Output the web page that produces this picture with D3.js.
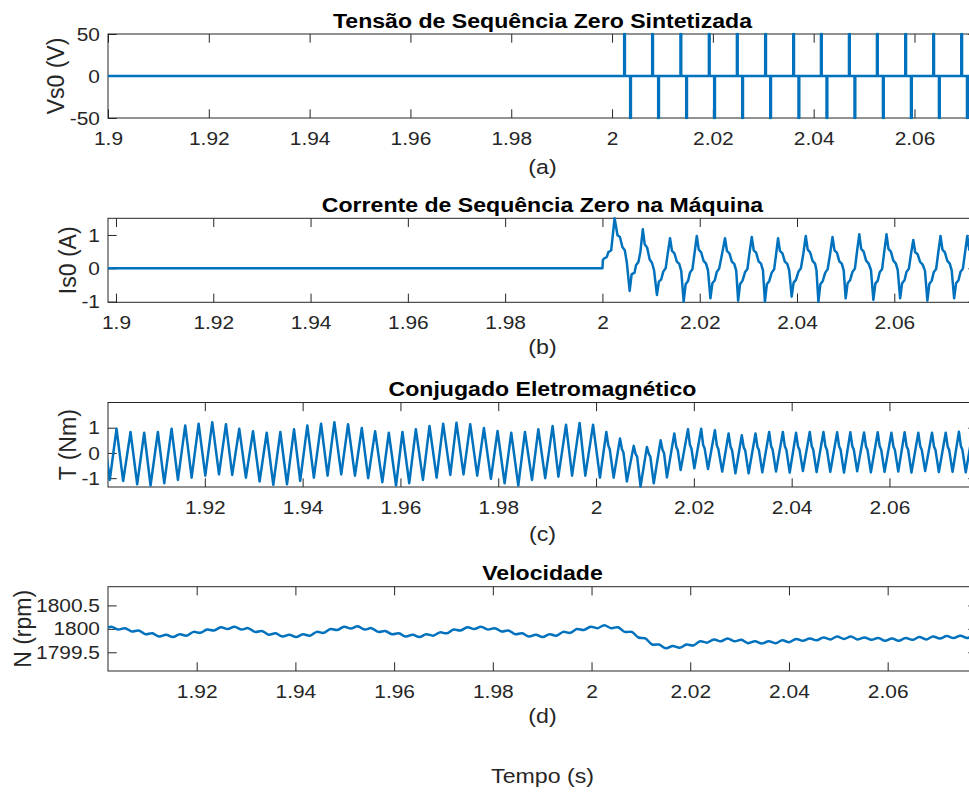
<!DOCTYPE html>
<html>
<head>
<meta charset="utf-8">
<script src="https://cdn.jsdelivr.net/npm/d3@7"></script>
<style>
  body { margin: 0; background: #fff; }
  svg { display: block; }
  text { font-family: "Liberation Sans", Arial, Helvetica, sans-serif; }
</style>
</head>
<body>
<svg id="fig" width="969" height="792"></svg>
<script>
// Time offsets below are in milliseconds after T0 (seconds).
const T0 = 1.9;

// (a) Synthesized zero-sequence voltage: narrow +/- pulses after 2.0 s
const vsPosPulseMs = [102.40, 107.96, 113.57, 119.21, 124.77, 130.38, 135.94, 141.44, 147.00, 152.55, 158.17, 163.72, 169.28];
const vsNegPulseMs = [103.59, 109.15, 114.71, 120.26, 125.82, 131.38, 136.99, 142.55, 148.10, 153.74, 159.30, 164.85, 170.41];
const vsPulseV = 50;
const vsPulseWidthMs = 0.15;

// (b) Zero-sequence current in the machine
const isMs = [-1.7, 100.0, 100.1, 100.3, 100.9, 101.2, 101.8, 102.5, 103.1, 103.6, 104.1, 104.6, 105.0, 105.6, 106.0, 106.6, 106.9, 107.4, 107.8, 108.3,
  108.7, 109.2, 109.7, 110.2, 110.6, 111.2, 111.6, 112.1, 112.5, 113.0, 113.4, 113.9,
  114.3, 114.8, 115.3, 115.8, 116.2, 116.7, 117.1, 117.6, 118.0, 118.5, 118.9, 119.4,
  119.8, 120.3, 120.8, 121.3, 121.7, 122.2, 122.6, 123.1, 123.5, 124.0, 124.6, 125.2,
  125.6, 126.1, 126.6, 127.1, 127.5, 127.9, 128.3, 128.8, 129.3, 129.8, 130.2, 130.7,
  131.1, 131.6, 132.1, 132.6, 133.0, 133.4, 133.8, 134.3, 134.8, 135.3, 135.7, 136.1,
  136.5, 137.0, 137.5, 138.0, 138.4, 138.9, 139.3, 139.8, 140.3, 140.8, 141.3, 141.8,
  142.2, 142.7, 143.2, 143.7, 144.0, 144.4, 144.8, 145.3, 145.8, 146.3, 146.8, 147.3,
  147.7, 148.2, 148.7, 149.2, 149.6, 150.0, 150.4, 150.9, 151.4, 151.9, 152.3, 152.8,
  153.2, 153.7, 154.2, 154.7, 155.2, 155.7, 156.1, 156.6, 157.0, 157.5, 157.9, 158.4,
  158.8, 159.3, 159.8, 160.3, 160.7, 161.2, 161.6, 162.1, 162.5, 163.0, 163.4, 163.9,
  164.3, 164.8, 165.3, 165.8, 166.3, 166.8, 167.2, 167.7, 168.1, 168.6, 169.0, 169.5,
  169.9, 170.4, 170.9, 171.4, 171.8, 172.3, 172.7, 173.2, 173.6, 174.1, 174.5, 175.0,
  175.4, 175.9, 176.4, 176.9, 177.3, 177.8];
const isA = [0, 0, 0.25, 0.29, 0.34, 0.48, 0.54, 1.5, 0.99, 0.94, 0.64, 0.54, 0.19, -0.68, -0.18, -0.13, 0.09, 0.19, 0.49, 1.17,
  0.72, 0.62, 0.27, 0.16, -0.05, -0.80, -0.40, -0.33, -0.10, 0.0, 0.42, 0.90,
  0.52, 0.45, 0.20, 0.13, -0.08, -1.0, -0.48, -0.38, -0.13, -0.03, 0.42, 0.97,
  0.56, 0.48, 0.22, 0.14, -0.06, -0.90, -0.45, -0.36, -0.11, -0.01, 0.44, 0.90,
  0.52, 0.45, 0.20, 0.13, -0.07, -0.97, -0.47, -0.37, -0.12, -0.02, 0.43, 0.94,
  0.54, 0.47, 0.21, 0.14, -0.06, -1.0, -0.48, -0.38, -0.13, -0.03, 0.42, 0.90,
  0.52, 0.45, 0.20, 0.13, -0.07, -0.85, -0.43, -0.34, -0.10, 0.0, 0.44, 0.97,
  0.56, 0.48, 0.22, 0.14, -0.06, -1.0, -0.48, -0.38, -0.13, -0.03, 0.43, 0.94,
  0.54, 0.47, 0.21, 0.14, -0.06, -0.90, -0.45, -0.36, -0.11, -0.01, 0.46, 1.02,
  0.58, 0.50, 0.23, 0.15, -0.05, -0.95, -0.46, -0.37, -0.12, -0.02, 0.46, 1.02,
  0.58, 0.50, 0.23, 0.15, -0.05, -0.90, -0.45, -0.36, -0.11, -0.01, 0.40, 0.85,
  0.48, 0.42, 0.19, 0.12, -0.07, -0.97, -0.47, -0.37, -0.12, -0.02, 0.43, 0.97,
  0.56, 0.48, 0.22, 0.14, -0.06, -0.90, -0.45, -0.36, -0.11, -0.01, 0.43, 0.97,
  0.56, 0.48, 0.22, 0.14, -0.06, -0.90];

// (c) Electromagnetic torque
const teMs = [0.0, 0.57, 1.94, 3.3, 4.81, 6.17, 7.60, 8.9, 10.40, 11.7, 13.20, 14.5, 15.99, 17.3, 18.73, 20.1, 21.52, 22.9, 24.32, 25.6, 27.04,
  28.4, 29.85, 31.2, 32.65, 34.0, 35.44, 36.8, 38.24, 39.5, 40.96, 42.3, 43.77, 45.1, 46.49, 47.9, 49.29, 50.7, 52.10, 53.4, 54.82,
  56.3, 57.62, 59.1, 60.41, 61.8, 63.15, 64.6, 65.94, 67.4, 68.74, 70.2, 71.46, 72.9, 74.27, 75.7, 77.07, 78.5, 79.86, 81.3, 82.66,
  84.1, 85.46, 86.9, 88.2, 89.6, 91.12, 92.3, 93.86, 95.1, 96.64, 97.8, 99.39, 100.8,
  102.1, 102.5, 102.8, 103.6, 104.9, 105.3, 105.6, 106.3, 107.7, 108.1, 108.4, 109.1, 110.4, 110.8, 111.1, 111.8,
  113.2, 113.6, 113.9, 114.5, 116.0, 116.4, 116.7, 117.3, 118.8, 119.2, 119.5, 120.1, 121.5, 121.9, 122.2, 122.9,
  124.3, 124.7, 125.0, 125.8, 127.1, 127.5, 127.8, 128.5, 129.8, 130.2, 130.5, 131.2, 132.6, 133.0, 133.3, 134.0,
  135.4, 135.8, 136.1, 136.8, 138.2, 138.6, 138.9, 139.6, 140.9, 141.3, 141.6, 142.3, 143.7, 144.1, 144.4, 145.1,
  146.5, 146.9, 147.2, 147.9, 149.3, 149.7, 150.0, 150.7, 152.0, 152.4, 152.7, 153.4, 154.8, 155.2, 155.5, 156.2,
  157.6, 158.0, 158.3, 159.0, 160.4, 160.8, 161.1, 161.8, 163.1, 163.5, 163.8, 164.5, 165.9, 166.3, 166.6, 167.3,
  168.7, 169.1, 169.4, 170.1, 171.5, 171.9, 172.2, 172.9, 174.2, 174.6, 174.9, 175.6, 177.0, 177.4, 177.7, 178.4];
const teNm = [-0.22, -1.07, 0.96, -1.11, 0.83, -1.24, 0.80, -1.29, 0.83, -1.20, 0.96, -1.07, 1.09, -0.98, 1.16, -0.90, 1.22, -0.85, 1.14, -0.87, 0.96,
  -0.98, 0.86, -1.13, 0.80, -1.26, 0.83, -1.24, 0.94, -1.11, 1.09, -0.98, 1.16, -0.90, 1.22, -0.85, 1.14, -0.90, 0.99, -1.00, 0.86,
  -1.16, 0.80, -1.29, 0.83, -1.20, 0.94, -1.07, 1.07, -0.98, 1.16, -0.87, 1.20, -0.85, 1.14, -0.90, 0.99, -1.03, 0.87, -1.20, 0.80,
  -1.29, 0.83, -1.07, 0.94, -1.00, 1.07, -0.94, 1.12, -0.90, 1.19, -0.90, 1.12, -0.98,
  0.83, 0.30, 0.15, -0.98, 0.57, 0.15, 0.02, -1.13, 0.28, -0.05, -0.15, -1.33, 0.24, -0.05, -0.15, -1.20,
  0.50, 0.12, 0.00, -0.97, 0.77, 0.25, 0.12, -0.68, 0.94, 0.32, 0.18, -0.61, 0.96, 0.32, 0.18, -0.64,
  0.90, 0.30, 0.16, -0.74, 0.77, 0.25, 0.12, -0.81, 0.70, 0.22, 0.10, -0.81, 0.77, 0.25, 0.12, -0.77,
  0.83, 0.27, 0.14, -0.74, 0.83, 0.27, 0.14, -0.78, 0.80, 0.26, 0.13, -0.72, 0.83, 0.27, 0.14, -0.76,
  0.83, 0.27, 0.14, -0.75, 0.82, 0.27, 0.14, -0.78, 0.82, 0.27, 0.14, -0.73, 0.81, 0.26, 0.13, -0.77,
  0.82, 0.27, 0.14, -0.75, 0.80, 0.26, 0.13, -0.74, 0.82, 0.27, 0.14, -0.78, 0.80, 0.26, 0.13, -0.72,
  0.80, 0.26, 0.13, -0.76, 0.80, 0.26, 0.13, -0.75, 0.84, 0.27, 0.14, -0.77, 0.82, 0.27, 0.14, -0.75];

// (d) Rotor speed
const nMs = [1.30, 2.69, 4.08, 5.46, 6.85, 8.24, 9.63, 11.01, 12.40, 13.79, 15.18, 16.56, 17.95, 19.34, 20.73, 22.11, 23.50, 24.89, 26.28, 27.66,
  29.05, 30.44, 31.83, 33.21, 34.60, 35.99, 37.38, 38.76, 40.15, 41.54, 42.93, 44.31, 45.70, 47.09, 48.48, 49.86, 51.25, 52.64, 54.03, 55.41,
  56.80, 58.19, 59.58, 60.96, 62.35, 63.74, 65.13, 66.51, 67.90, 69.29, 70.68, 72.06, 73.45, 74.84, 76.23, 77.61, 79.00, 80.39, 81.78, 83.16,
  84.55, 85.94, 87.33, 88.71, 90.10, 91.49, 92.88, 94.26, 95.65, 97.04, 98.43, 99.81, 101.20, 102.59, 103.98, 105.36, 106.75, 108.14, 109.53, 110.91,
  112.30, 113.69, 115.08, 116.46, 117.85, 119.24, 120.63, 122.01, 123.40, 124.79, 126.18, 127.56, 128.95, 130.34, 131.73, 133.11, 134.50, 135.89, 137.28, 138.66,
  140.05, 141.44, 142.83, 144.21, 145.60, 146.99, 148.38, 149.76, 151.15, 152.54, 153.93, 155.31, 156.70, 158.09, 159.48, 160.86, 162.25, 163.64, 165.03, 166.41,
  167.80, 169.19, 170.58, 171.96, 173.35, 174.74, 176.13, 177.51, 178.90];
const nRpm = [1799.995, 1800.045, 1799.985, 1800.015, 1799.945, 1799.965, 1799.885, 1799.905, 1799.835, 1799.875,
  1799.825, 1799.885, 1799.855, 1799.935, 1799.915, 1799.985, 1799.965, 1800.035, 1799.995, 1800.045,
  1799.985, 1800.015, 1799.935, 1799.955, 1799.875, 1799.905, 1799.835, 1799.875, 1799.825, 1799.885,
  1799.855, 1799.935, 1799.915, 1799.995, 1799.975, 1800.045, 1800.005, 1800.055, 1799.985, 1800.015,
  1799.935, 1799.955, 1799.885, 1799.905, 1799.835, 1799.875, 1799.825, 1799.885, 1799.855, 1799.925,
  1799.905, 1799.985, 1799.965, 1800.035, 1799.995, 1800.045, 1799.985, 1800.015, 1799.945, 1799.965,
  1799.885, 1799.905, 1799.835, 1799.875, 1799.825, 1799.885, 1799.855, 1799.935, 1799.915, 1799.995,
  1799.975, 1800.045, 1800.015, 1800.075, 1800.015, 1800.035, 1799.935, 1799.935, 1799.815, 1799.795,
  1799.665, 1799.665, 1799.585, 1799.635, 1799.595, 1799.665, 1799.645, 1799.735, 1799.705, 1799.775,
  1799.735, 1799.795, 1799.735, 1799.765, 1799.695, 1799.735, 1799.685, 1799.735, 1799.695, 1799.755,
  1799.715, 1799.785, 1799.745, 1799.795, 1799.755, 1799.815, 1799.775, 1799.835, 1799.785, 1799.835,
  1799.775, 1799.815, 1799.765, 1799.805, 1799.745, 1799.795, 1799.745, 1799.805, 1799.765, 1799.825,
  1799.775, 1799.835, 1799.795, 1799.845, 1799.805, 1799.855, 1799.805, 1799.845, 1799.795];

// Tick values
const xTickValues = [1.9, 1.92, 1.94, 1.96, 1.98, 2.0, 2.02, 2.04, 2.06];
const vsTicks = [-50, 0, 50];
const isTicks = [-1, 0, 1];
const teTicks = [-1, 0, 1];
const nTicks = [1799.5, 1800, 1800.5];

// Labels
const titles = ["Tensão de Sequência Zero Sintetizada", "Corrente de Sequência Zero na Máquina", "Conjugado Eletromagnético", "Velocidade"];
const yLabels = ["Vs0 (V)", "Is0 (A)", "T (Nm)", "N (rpm)"];
const subLabels = ["(a)", "(b)", "(c)", "(d)"];
const xLabel = "Tempo (s)";

// ---------------------------------------------------------------
const lineColor = "#0072BD";
const axisColor = "#262626";
const plotL = 108, plotR = 977;
const tickLen = 8.7;
const sx = 1.1;            // horizontal widening of the figure's lettering

const pair = (ms, vals) => ms.map((m, i) => ({ t: T0 + m / 1000, v: vals[i] }));

// voltage trace: zero line broken by the listed pulses
const vsPulses = vsPosPulseMs.map(m => ({ m, v: vsPulseV }))
  .concat(vsNegPulseMs.map(m => ({ m, v: -vsPulseV })))
  .sort((a, b) => a.m - b.m);
const vsPoints = [{ t: T0 - 0.001, v: 0 }];
vsPulses.forEach(p => {
  const t1 = T0 + p.m / 1000, t2 = T0 + (p.m + vsPulseWidthMs) / 1000;
  vsPoints.push({ t: t1, v: 0 }, { t: t1, v: p.v }, { t: t2, v: p.v }, { t: t2, v: 0 });
});
vsPoints.push({ t: T0 + 0.18, v: 0 });

const panels = [
  { top: 34, bottom: 118, xDomain: [1.9, 2.0724], yDomain: [-50, 50], yTicks: vsTicks,
    data: vsPoints, curve: d3.curveLinear, ylabX: 64, subY: 174 },
  { top: 218.3, bottom: 302.3, xDomain: [1.89836, 2.0770], yDomain: [-1.02, 1.5], yTicks: isTicks,
    data: pair(isMs, isA), curve: d3.curveLinear, ylabX: 76, subY: 354 },
  { top: 402.5, bottom: 487, xDomain: [1.9002, 2.0779], yDomain: [-1.35, 2.0], yTicks: teTicks,
    data: pair(teMs, teNm), curve: d3.curveLinear, ylabX: 76, subY: 541 },
  { top: 586.7, bottom: 671, xDomain: [1.90203, 2.0781], yDomain: [1799.1, 1800.9], yTicks: nTicks,
    data: pair(nMs, nRpm), curve: d3.curveCatmullRom.alpha(0.5), ylabX: 31, subY: 723 }
];

const svg = d3.select("#fig");
const defs = svg.append("defs");
const fmtX = v => String(+v.toFixed(2));
const fmtY = v => String(v);
const cx = (plotL + plotR) / 2;

function styleTicks(g) {
  g.select(".domain").remove();
  g.selectAll("line").attr("stroke", axisColor).attr("stroke-width", 1);
  g.selectAll("text")
    .attr("fill", axisColor)
    .style("font-family", '"Liberation Sans", Arial, sans-serif')
    .style("font-size", "19px");
}

panels.forEach((p, i) => {
  const x = d3.scaleLinear().domain(p.xDomain).range([plotL, plotR]);
  const y = d3.scaleLinear().domain(p.yDomain).range([p.bottom, p.top]);
  const xt = xTickValues.filter(v => v > p.xDomain[0] - 1e-9 && v < p.xDomain[1]);
  const g = svg.append("g");

  // ticks on all four sides, pointing inward
  g.append("g").attr("transform", `translate(0,${p.bottom})`)
    .call(d3.axisBottom(x).tickValues(xt).tickFormat(fmtX).tickSize(-tickLen).tickPadding(13.5))
    .call(styleTicks)
    .call(a => a.selectAll("text").attr("transform", `scale(${sx},1)`));
  g.append("g").attr("transform", `translate(0,${p.top})`)
    .call(d3.axisTop(x).tickValues(xt).tickFormat("").tickSize(-tickLen))
    .call(styleTicks);
  g.append("g").attr("transform", `translate(${plotL},0)`)
    .call(d3.axisLeft(y).tickValues(p.yTicks).tickFormat(fmtY).tickSize(-tickLen).tickPadding(7.3))
    .call(styleTicks)
    .call(a => a.selectAll("text").attr("transform", `scale(${sx},1)`));
  g.append("g").attr("transform", `translate(${plotR},0)`)
    .call(d3.axisRight(y).tickValues(p.yTicks).tickFormat("").tickSize(-tickLen))
    .call(styleTicks);

  // axes box
  g.append("rect")
    .attr("x", plotL).attr("y", p.top)
    .attr("width", plotR - plotL).attr("height", p.bottom - p.top)
    .attr("fill", "none").attr("stroke", axisColor).attr("stroke-width", 1);

  // data trace
  const clipId = "clip" + i;
  defs.append("clipPath").attr("id", clipId).append("rect")
    .attr("x", plotL).attr("y", p.top - 1.5)
    .attr("width", plotR - plotL).attr("height", p.bottom - p.top + 3);
  g.append("path")
    .datum(p.data)
    .attr("clip-path", `url(#${clipId})`)
    .attr("fill", "none")
    .attr("stroke", lineColor)
    .attr("stroke-width", 2.5)
    .attr("stroke-linejoin", "round")
    .attr("d", d3.line().x(d => x(d.t)).y(d => y(d.v)).curve(p.curve));

  // title
  g.append("text")
    .attr("transform", `translate(${cx},${p.top - 6.5}) scale(${sx},1)`)
    .attr("text-anchor", "middle")
    .attr("fill", "#000")
    .style("font-size", "21px").style("font-weight", "bold")
    .text(titles[i]);

  // y label
  g.append("text")
    .attr("transform", `translate(${p.ylabX},${(p.top + p.bottom) / 2}) rotate(-90)`)
    .attr("text-anchor", "middle")
    .attr("fill", axisColor)
    .style("font-size", "23px")
    .text(yLabels[i]);

  // sub-figure label
  g.append("text")
    .attr("transform", `translate(${cx},${p.subY}) scale(${sx + 0.03},1)`)
    .attr("text-anchor", "middle")
    .attr("fill", axisColor)
    .style("font-size", "20.5px")
    .text(subLabels[i]);
});

svg.append("text")
  .attr("transform", `translate(${cx},783) scale(${sx + 0.03},1)`)
  .attr("text-anchor", "middle")
  .attr("fill", axisColor)
  .style("font-size", "20.5px")
  .text(xLabel);
</script>
</body>
</html>
